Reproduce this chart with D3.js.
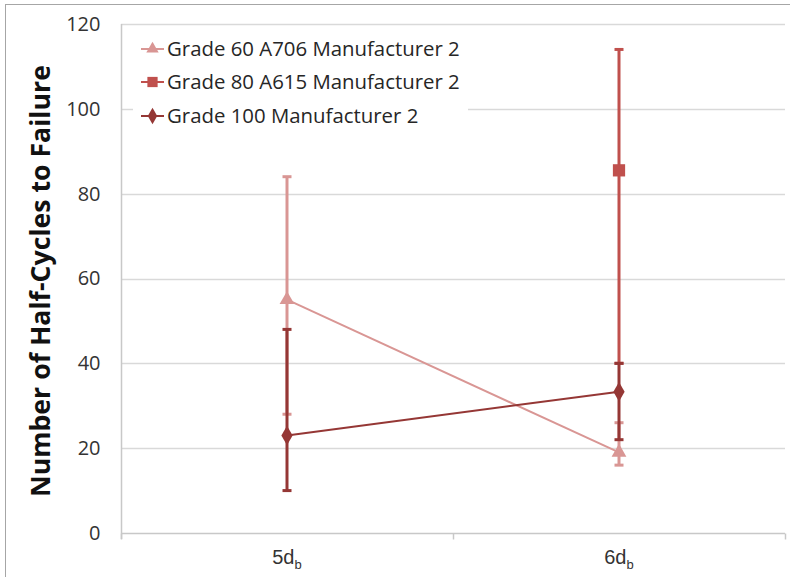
<!DOCTYPE html>
<html>
<head>
<meta charset="utf-8">
<script src="https://cdn.jsdelivr.net/npm/d3@7"></script>
<style>
  html, body { margin: 0; padding: 0; background: #fff; }
  svg { display: block; font-family: "Open Sans", "Noto Sans", sans-serif; }
</style>
</head>
<body>
<svg id="chart" width="790" height="577"></svg>
<script>
// Categories (crack length in bar diameters), written as base + "_" + subscript
const categories = ["5d_b", "6d_b"];

// Series names and values (null = no test at that length)
const seriesNames = ["Grade 60 A706 Manufacturer 2", "Grade 80 A615 Manufacturer 2", "Grade 100 Manufacturer 2"];
const grade60Mean  = [55, 19];
const grade60Upper = [84, 26];
const grade60Lower = [28, 16];
const grade80Mean  = [null, 85.5];
const grade80Upper = [null, 114];
const grade80Lower = [null, 40];
const grade100Mean  = [23, 33.3];
const grade100Upper = [48, 40];
const grade100Lower = [10, 22];

const yTicks = [0, 20, 40, 60, 80, 100, 120];

const seriesColors = ["#d99694", "#c0504d", "#953735"];
const seriesShapes = [d3.symbolTriangle, d3.symbolSquare, d3.symbolDiamond];
const seriesSizes = [95, 150, 110];

const series = [
  { mean: grade60Mean, upper: grade60Upper, lower: grade60Lower },
  { mean: grade80Mean, upper: grade80Upper, lower: grade80Lower },
  { mean: grade100Mean, upper: grade100Upper, lower: grade100Lower }
].map((s, i) => ({ ...s, name: seriesNames[i], color: seriesColors[i], shape: seriesShapes[i], size: seriesSizes[i] }));

const svg = d3.select("#chart");
const plot = { left: 121, right: 785, top: 24, bottom: 533 };

const x = d3.scaleBand().domain(categories).range([plot.left, plot.right]);
const y = d3.scaleLinear().domain([0, 120]).range([plot.bottom, plot.top]);

// Outer chart frame
svg.append("rect")
  .attr("x", 5.5).attr("y", 4.5).attr("width", 820).attr("height", 620)
  .attr("fill", "none").attr("stroke", "#a6a6a6").attr("stroke-width", 1);

// Horizontal gridlines
svg.append("g")
  .selectAll("line")
  .data(yTicks.filter(t => t > 0))
  .join("line")
  .attr("x1", plot.left).attr("x2", plot.right)
  .attr("y1", d => Math.round(y(d)) + 0.5).attr("y2", d => Math.round(y(d)) + 0.5)
  .attr("stroke", "#d9d9d9").attr("stroke-width", 1.5);

// Y axis
const yAxis = svg.append("g")
  .attr("transform", `translate(${plot.left + 0.5},0)`)
  .call(d3.axisLeft(y).tickValues(yTicks).tickSize(0).tickPadding(21));
yAxis.select(".domain").attr("stroke", "#c8c8c8").attr("stroke-width", 1.5)
  .attr("d", `M0,${plot.top}V${plot.bottom + 6}`);
yAxis.selectAll("text").attr("font-size", 20).attr("fill", "#333")
  .attr("font-family", "Open Sans, sans-serif");

// X axis
const xAxis = svg.append("g")
  .attr("transform", `translate(0,${plot.bottom + 0.5})`)
  .call(d3.axisBottom(x).tickSize(0).tickFormat(""));
xAxis.select(".domain").attr("stroke", "#c8c8c8").attr("stroke-width", 1.5)
  .attr("d", `M${plot.left},0H${plot.right}`);
// category separators
const boundaries = [plot.left, ...categories.map(c => x(c) + x.bandwidth())];
xAxis.append("g").selectAll("line").data(boundaries).join("line")
  .attr("x1", d => d + 0.5).attr("x2", d => d + 0.5)
  .attr("y1", 0).attr("y2", 6)
  .attr("stroke", "#c8c8c8").attr("stroke-width", 1.5);
// category labels with subscript
const xLabels = xAxis.append("g").selectAll("text").data(categories).join("text")
  .attr("x", d => x(d) + x.bandwidth() / 2)
  .attr("y", 30)
  .attr("text-anchor", "middle")
  .attr("font-size", 20).attr("fill", "#333");
xLabels.append("tspan").text(d => d.split("_")[0]);
xLabels.append("tspan").text(d => d.split("_")[1])
  .attr("font-size", 13).attr("dy", 5);

// Y axis title
const title = svg.append("text")
  .attr("transform", `translate(50,281) rotate(-90)`)
  .attr("text-anchor", "middle")
  .attr("font-weight", "bold")
  .attr("font-size", 24)
  .attr("fill", "#111")
  .text("Number of Half-Cycles to Failure");
// fit the title to its available height
const tw = title.node().getComputedTextLength();
title.attr("font-size", 24 * 432 / tw);

// Legend background (hides gridlines behind it)
svg.append("rect")
  .attr("x", 133).attr("y", 26).attr("width", 335).attr("height", 104)
  .attr("fill", "#fff");

const cx = d => x(d) + x.bandwidth() / 2;

// Series: error bars, connecting line, markers
series.forEach(s => {
  const g = svg.append("g");
  const pts = categories.map((c, i) => ({ c, m: s.mean[i], hi: s.upper[i], lo: s.lower[i] }))
    .filter(p => p.m !== null);

  g.selectAll(".err").data(pts).join("line")
    .attr("x1", p => cx(p.c)).attr("x2", p => cx(p.c))
    .attr("y1", p => y(p.hi)).attr("y2", p => y(p.lo))
    .attr("stroke", s.color).attr("stroke-width", 3);
  const caps = pts.flatMap(p => [{ c: p.c, v: p.hi }, { c: p.c, v: p.lo }]);
  g.selectAll(".cap").data(caps).join("line")
    .attr("x1", p => cx(p.c) - 4.5).attr("x2", p => cx(p.c) + 4.5)
    .attr("y1", p => y(p.v)).attr("y2", p => y(p.v))
    .attr("stroke", s.color).attr("stroke-width", 3);

  g.append("path")
    .datum(pts)
    .attr("fill", "none").attr("stroke", s.color).attr("stroke-width", 2)
    .attr("d", d3.line().x(p => cx(p.c)).y(p => y(p.m)));

  g.selectAll(".mk").data(pts).join("path")
    .attr("transform", p => `translate(${cx(p.c)},${y(p.m)})`)
    .attr("d", d3.symbol().type(s.shape).size(s.size))
    .attr("fill", s.color);
});

// Legend entries
const legendRows = [49, 82, 116];
const legend = svg.append("g");
series.forEach((s, i) => {
  const row = legend.append("g").attr("transform", `translate(0,${legendRows[i]})`);
  row.append("line").attr("x1", 141).attr("x2", 164).attr("y1", 0).attr("y2", 0)
    .attr("stroke", s.color).attr("stroke-width", 2);
  row.append("path").attr("transform", "translate(152.5,0)")
    .attr("d", d3.symbol().type(s.shape).size(s.size * 0.7))
    .attr("fill", s.color);
  row.append("text").attr("x", 167).attr("y", 0).attr("dy", "0.35em")
    .attr("font-size", 20).attr("fill", "#262626")
    .text(s.name);
});
// scale legend text so the longest entry spans the legend box
const legendTexts = legend.selectAll("text");
const firstW = legendTexts.node().getComputedTextLength();
legendTexts.attr("font-size", 20 * 293 / firstW);
</script>
</body>
</html>
